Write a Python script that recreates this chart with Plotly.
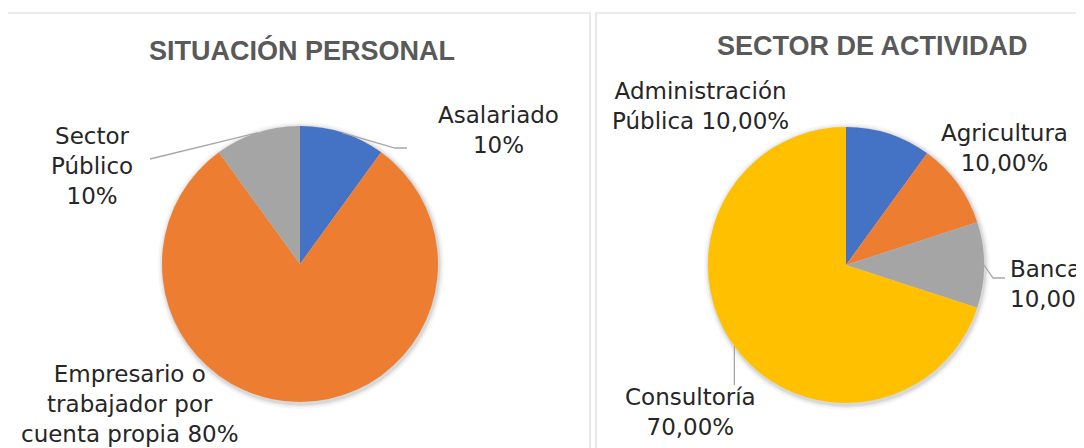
import math
import plotly.graph_objects as go

W, H = 1084, 448

# ---- data ----
left_title = "SITUACIÓN PERSONAL"
left_labels = ["Asalariado", "Empresario o trabajador por cuenta propia", "Sector Público"]
left_values = [10, 80, 10]
left_text = ["Asalariado<br>10%", "Empresario o<br>trabajador por<br>cuenta propia 80%", "Sector<br>Público<br>10%"]

right_title = "SECTOR DE ACTIVIDAD"
right_labels = ["Administración Pública", "Agricultura", "Banca", "Consultoría"]
right_values = [10, 10, 10, 70]
right_text = ["Administración<br>Pública 10,00%", "Agricultura<br>10,00%", "Banca<br>10,00%", "Consultoría<br>70,00%"]

left_colors = ["#4472C4", "#ED7D31", "#A5A5A5"]
right_colors = ["#4472C4", "#ED7D31", "#A5A5A5", "#FFC000"]

# ---- layout helpers (screen pixel -> paper); page body has an 8px margin ----
OFF = 8

def px(x):
    return (x - OFF) / W

def py(y):
    return 1 - (y - OFF) / H

R = 138
LC = (300, 264)
RC = (846, 265)

def domain(c):
    return dict(x=[px(c[0] - R), px(c[0] + R)], y=[py(c[1] + R), py(c[1] - R)])

fig = go.Figure()
for vals, labs, cols, c in [(left_values, left_labels, left_colors, LC),
                            (right_values, right_labels, right_colors, RC)]:
    fig.add_trace(go.Pie(
        values=vals, labels=labs, sort=False, direction="clockwise", rotation=0,
        marker=dict(colors=cols, line=dict(width=0)),
        textinfo="none", hoverinfo="label+percent", domain=domain(c),
        showlegend=False,
    ))

shapes = []
# panel borders
shapes.append(dict(type="rect", xref="paper", yref="paper", x0=px(7), x1=px(590), y0=py(480), y1=py(13),
                   line=dict(color="#D9D9D9", width=1.2), layer="below"))
shapes.append(dict(type="rect", xref="paper", yref="paper", x0=px(596), x1=px(1110), y0=py(480), y1=py(13),
                   line=dict(color="#D9D9D9", width=1.2), layer="below"))

# soft shadows under pies
for c in (LC, RC):
    for d, a in [(5, 0.035), (3, 0.05), (1.5, 0.07)]:
        shapes.append(dict(type="circle", xref="paper", yref="paper",
                           x0=px(c[0] - R - d + 1), x1=px(c[0] + R + d + 1),
                           y0=py(c[1] + R + d + 2), y1=py(c[1] - R - d + 1),
                           fillcolor=f"rgba(0,0,0,{a})", line=dict(width=0), layer="below"))

def mid_point(values, i, c):
    tot = sum(values)
    start = sum(values[:i]) / tot
    mid = (start + values[i] / tot / 2) * 2 * math.pi
    return c[0] + R * math.sin(mid), c[1] - R * math.cos(mid)

def leader(pts):
    path = "M " + " L ".join(f"{px(x)},{py(y)}" for x, y in pts)
    shapes.append(dict(type="path", xref="paper", yref="paper", path=path,
                       line=dict(color="#A6A6A6", width=1.3)))

# leader lines
x, y = mid_point(left_values, 0, LC)
leader([(x, y), (395, 148), (407, 148)])
x, y = mid_point(left_values, 2, LC)
leader([(x, y), (150, 159)])
x, y = mid_point(right_values, 2, RC)
leader([(x, y), (993, 278), (1005, 278)])
x, y = mid_point(right_values, 3, RC)
leader([(x, y), (x, 385)])

annotations = []
tfont = dict(family="Liberation Sans, Arial, sans-serif", size=27, color="#595959", weight="bold")
annotations.append(dict(text=left_title, x=px(302), y=py(50), xref="paper", yref="paper",
                        showarrow=False, font=tfont, xanchor="center", yanchor="middle"))
annotations.append(dict(text=right_title, x=px(872), y=py(46), xref="paper", yref="paper",
                        showarrow=False, font=tfont, xanchor="center", yanchor="middle"))

lfont = dict(family="DejaVu Sans, sans-serif", size=23, color="#262626")
label_pos = [
    (left_text[0], 498, 130, "center"),
    (left_text[1], 130, 404, "center"),
    (left_text[2], 92, 166, "center"),
    (right_text[0], 700, 106, "center"),
    (right_text[1], 1004, 148, "center"),
    (right_text[2], 1008, 284, "left"),
    (right_text[3], 690, 412, "center"),
]
for t, x, y, anc in label_pos:
    annotations.append(dict(text=t, x=px(x), y=py(y), xref="paper", yref="paper",
                            showarrow=False, font=lfont, xanchor=anc, yanchor="middle",
                            align=anc))

fig.update_layout(
    width=W, height=H, margin=dict(l=0, r=0, t=0, b=0),
    paper_bgcolor="white", plot_bgcolor="white",
    shapes=shapes, annotations=annotations,
)

fig.write_html("out.html")
